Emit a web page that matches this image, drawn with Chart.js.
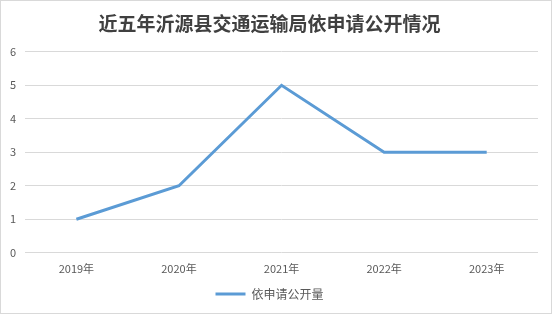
<!DOCTYPE html>
<html>
<head>
<meta charset="utf-8">
<script src="https://cdn.jsdelivr.net/npm/chart.js@4"></script>
<style>
  html, body { margin: 0; padding: 0; background: #fff; }
  #wrap { position: absolute; left: 0; top: 0; width: 550px; height: 312px; border: 1px solid #d9d9d9; background: #fff; }
  canvas { display: block; }
</style>
</head>
<body>
<div id="wrap"><canvas id="c" width="550" height="312"></canvas></div>
<script>
const years = ['2019年', '2020年', '2021年', '2022年', '2023年'];
const requests = [1, 2, 5, 3, 3];
const yTicks = [0, 1, 2, 3, 4, 5, 6];
const seriesName = '依申请公开量';
const titleText = '近五年沂源县交通运输局依申请公开情况';

const cjk = '"Microsoft YaHei", "Noto Sans CJK SC", "Liberation Sans", sans-serif';

new Chart(document.getElementById('c'), {
  type: 'line',
  data: {
    labels: years,
    datasets: [{
      label: seriesName,
      data: requests,
      borderColor: '#5B9BD5',
      backgroundColor: '#5B9BD5',
      borderWidth: 3,
      pointRadius: 0,
      pointHoverRadius: 0,
      tension: 0,
      fill: false
    }]
  },
  options: {
    responsive: false,
    animation: false,
    devicePixelRatio: 1,
    layout: { padding: { left: 0, right: 13, top: 0, bottom: 3 } },
    plugins: {
      title: {
        display: true,
        text: titleText,
        color: '#404040',
        font: { family: cjk, size: 19, weight: 'bold' },
        padding: { top: 11, bottom: 17 }
      },
      legend: {
        position: 'bottom',
        labels: {
          color: '#595959',
          font: { family: cjk, size: 12 },
          boxWidth: 30,
          boxHeight: 3,
          padding: 4,
          generateLabels(chart) {
            const ds = chart.data.datasets[0];
            return [{
              text: ds.label,
              fillStyle: ds.borderColor,
              strokeStyle: ds.borderColor,
              lineWidth: 0,
              fontColor: '#595959',
              datasetIndex: 0
            }];
          }
        }
      },
      tooltip: { enabled: false }
    },
    scales: {
      x: {
        offset: true,
        grid: { display: false, drawTicks: false },
        border: { display: false },
        ticks: { color: '#595959', font: { family: cjk, size: 11 }, padding: 9, maxRotation: 0 }
      },
      y: {
        min: yTicks[0],
        max: yTicks[yTicks.length - 1],
        afterBuildTicks(axis) { axis.ticks = yTicks.map(v => ({ value: v })); },
        grid: { color: '#d9d9d9', lineWidth: 1, drawTicks: false },
        border: { display: false },
        ticks: { color: '#595959', font: { family: cjk, size: 11 }, padding: 9 }
      }
    }
  }
});
</script>
</body>
</html>
